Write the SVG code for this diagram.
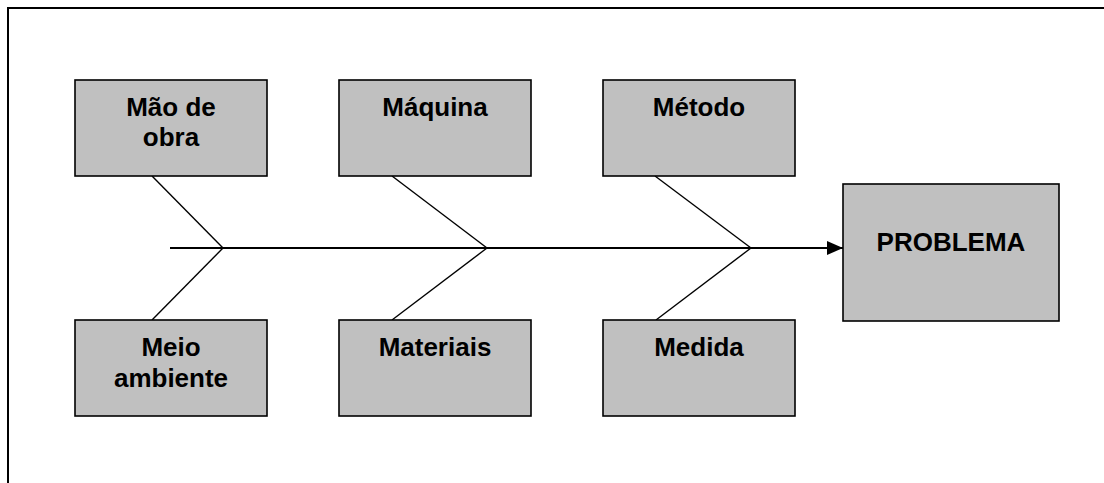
<svg xmlns="http://www.w3.org/2000/svg" width="1104" height="483" viewBox="0 0 1104 483">
  <style>
    .box { fill: #c0c0c0; stroke: #000; stroke-width: 1.6; }
    .lbl { font-family: "Liberation Sans", Arial, sans-serif; font-weight: bold; font-size: 26px; fill: #000; text-anchor: middle; }
    .bone { stroke: #000; stroke-width: 1.4; fill: none; }
    .spine { stroke: #000; stroke-width: 2; fill: none; }
  </style>
  <defs>
    <marker id="arrow" markerUnits="userSpaceOnUse" markerWidth="16" markerHeight="14" refX="16" refY="7" orient="auto">
      <path d="M0,0 L16,7 L0,14 Z" fill="#000"/>
    </marker>
  </defs>

  <rect width="1104" height="483" fill="#fff"/>
  <!-- page frame -->
  <rect x="8" y="8" width="1200" height="600" fill="none" stroke="#000" stroke-width="2"/>

  <!-- connectors -->
  <g id="connectors">
    <line class="spine" x1="170" y1="248" x2="843" y2="248" marker-end="url(#arrow)"/>
    <line class="bone" x1="152" y1="176" x2="223" y2="248"/>
    <line class="bone" x1="152" y1="320" x2="223" y2="248"/>
    <line class="bone" x1="392" y1="176" x2="487" y2="248"/>
    <line class="bone" x1="392" y1="320" x2="487" y2="248"/>
    <line class="bone" x1="655" y1="176" x2="751" y2="248"/>
    <line class="bone" x1="656" y1="320" x2="751" y2="248"/>
  </g>

  <g id="mao-de-obra">
    <rect class="box" x="75" y="80" width="192" height="96"/>
    <text class="lbl" x="171" y="116">Mão de</text>
    <text class="lbl" x="171" y="146">obra</text>
  </g>
  <g id="maquina">
    <rect class="box" x="339" y="80" width="192" height="96"/>
    <text class="lbl" x="435" y="116">Máquina</text>
  </g>
  <g id="metodo">
    <rect class="box" x="603" y="80" width="192" height="96"/>
    <text class="lbl" x="699" y="116">Método</text>
  </g>
  <g id="meio-ambiente">
    <rect class="box" x="75" y="320" width="192" height="96"/>
    <text class="lbl" x="171" y="356">Meio</text>
    <text class="lbl" x="171" y="387">ambiente</text>
  </g>
  <g id="materiais">
    <rect class="box" x="339" y="320" width="192" height="96"/>
    <text class="lbl" x="435" y="356">Materiais</text>
  </g>
  <g id="medida">
    <rect class="box" x="603" y="320" width="192" height="96"/>
    <text class="lbl" x="699" y="356">Medida</text>
  </g>
  <g id="problema">
    <rect class="box" x="843" y="184" width="216" height="137"/>
    <text class="lbl" x="951" y="251">PROBLEMA</text>
  </g>
</svg>
